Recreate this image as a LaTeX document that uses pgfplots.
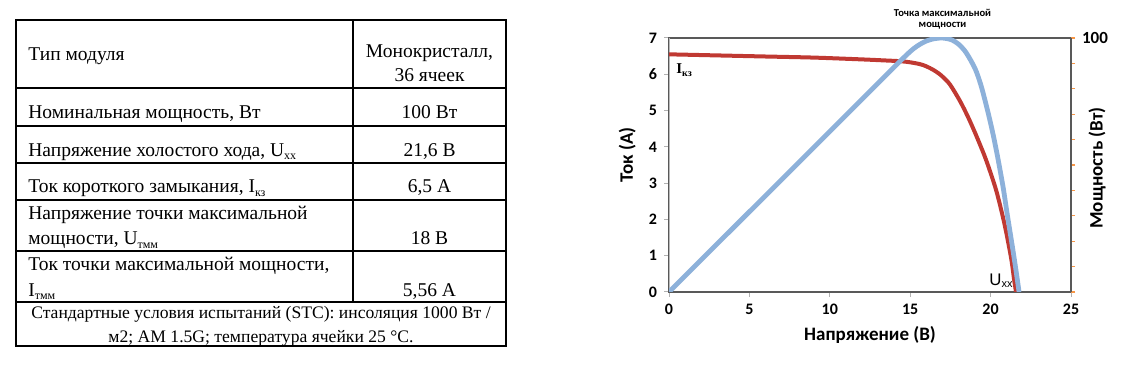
\documentclass[border=0pt]{standalone}
\usepackage{pgfplots}
\pgfplotsset{compat=1.18}
\usepackage{fontspec}
\setmainfont{Liberation Serif}
\newfontfamily\chartfont{Carlito}
\newfontfamily\sansfont{Liberation Sans}
\definecolor{curred}{RGB}{192,57,50}
\definecolor{powblue}{RGB}{141,177,218}
\definecolor{tickorange}{RGB}{247,150,70}
\definecolor{axgray}{RGB}{89,89,89}
\newcommand\sub[1]{\raisebox{-0.35ex}{\fontsize{6}{6}\selectfont #1}}
\newcommand\csub[1]{\raisebox{-0.3ex}{\fontsize{5}{5}\selectfont #1}}

\begin{document}
\begin{tikzpicture}
\path[use as bounding box] (0,0) rectangle (562pt,-184pt);
% ---------- table ----------
\draw[line width=0.6pt] (8pt,-10pt) rectangle (253pt,-173pt);
\draw[line width=0.6pt] (176.5pt,-10pt) -- (176.5pt,-151pt);
\draw[line width=0.6pt] (8pt,-44pt) -- (253pt,-44pt);
\draw[line width=0.6pt] (8pt,-63pt) -- (253pt,-63pt);
\draw[line width=0.6pt] (8pt,-81.5pt) -- (253pt,-81.5pt);
\draw[line width=0.6pt] (8pt,-100pt) -- (253pt,-100pt);
\draw[line width=0.6pt] (8pt,-125.5pt) -- (253pt,-125.5pt);
\draw[line width=0.6pt] (8pt,-151pt) -- (253pt,-151pt);
\begin{scope}[every node/.style={inner sep=0pt, font=\fontsize{9.75}{12}\selectfont}]
\node[anchor=base west] at (14pt,-30.5pt) {Тип модуля};
\node[anchor=base] at (214.75pt,-29pt) {Монокристалл,};
\node[anchor=base] at (214.75pt,-40.85pt) {36 ячеек};
\node[anchor=base west] at (14pt,-59.5pt) {Номинальная мощность, Вт};
\node[anchor=base] at (214.75pt,-59.5pt) {100 Вт};
\node[anchor=base west] at (14pt,-78.35pt) {Напряжение холостого хода, U\sub{хх}};
\node[anchor=base] at (214.75pt,-78.35pt) {21,6 В};
\node[anchor=base west] at (14pt,-96.5pt) {Ток короткого замыкания, I\sub{кз}};
\node[anchor=base] at (214.75pt,-96.5pt) {6,5 А};
\node[anchor=base west] at (14pt,-110pt) {Напряжение точки максимальной};
\node[anchor=base west] at (14pt,-122.5pt) {мощности, U\sub{тмм}};
\node[anchor=base] at (214.75pt,-122.5pt) {18 В};
\node[anchor=base west] at (14pt,-135.35pt) {Ток точки максимальной мощности,};
\node[anchor=base west] at (14pt,-148.35pt) {I\sub{тмм}};
\node[anchor=base] at (214.75pt,-148.35pt) {5,56 А};
\end{scope}
\begin{scope}[every node/.style={inner sep=0pt, font=\fontsize{8.8}{10}\selectfont}]
\node[anchor=base] at (130.5pt,-159.5pt) {Стандартные условия испытаний (STC): инсоляция 1000 Вт /};
\node[anchor=base] at (130.5pt,-171.35pt) {м2; AM 1.5G; температура ячейки 25 °C.};
\end{scope}
% ---------- chart ----------
\begin{axis}[
  at={(334.5pt,-146pt)}, anchor=south west, scale only axis,
  width=201pt, height=127pt,
  xmin=0, xmax=25, ymin=0, ymax=7,
  xtick={0,5,10,15,20,25}, ytick={0,1,...,7},
  xtick pos=left, ytick pos=left,
  axis line style={draw=axgray, line width=0.7pt},
  tick align=outside, major tick length=2.5pt,
  tick style={draw=gray!60, line width=0.5pt},
  tick label style={font=\chartfont\bfseries\fontsize{8}{9}\selectfont},
  /pgf/number format/assume math mode=true,
  xlabel={Напряжение (В)}, ylabel={Ток (А)},
  label style={font=\chartfont\bfseries\fontsize{9.5}{11}\selectfont},
  xlabel style={at={(axis description cs:0.5,-0.169)}, anchor=center},
  ylabel style={at={(axis description cs:-0.104,0.539)}, anchor=center},
]
\draw[gray!55, line width=0.7pt] (rel axis cs:0,0) -- (rel axis cs:0,1);
\addplot[curred, line width=2pt, smooth] coordinates {
(0,6.55) (3,6.52) (6,6.49) (9,6.46) (12,6.41) (13.5,6.38) (14.4,6.36)
(15.0,6.33) (15.6,6.28) (16.0,6.22) (16.44,6.12) (16.75,6.03) (17.0,5.94)
(17.47,5.72) (18.1,5.26) (18.61,4.81) (19.07,4.35) (19.49,3.90) (19.71,3.65)
(20.0,3.28) (20.38,2.75) (20.85,1.90) (21.27,0.95) (21.45,0.38) (21.58,0)
};
\end{axis}
\begin{axis}[
  at={(334.5pt,-146pt)}, anchor=south west, scale only axis,
  width=201pt, height=127pt,
  xmin=0, xmax=25, ymin=0, ymax=100,
  axis x line=none, axis y line*=right,
  ytick={0,10,...,100}, yticklabels={,,,,,,,,,,100},
  y axis line style={draw=axgray, line width=0.7pt},
  tick align=outside, major tick length=2pt,
  ytick style={draw=tickorange, line width=0.6pt},
  tick label style={font=\chartfont\bfseries\fontsize{8.5}{9}\selectfont},
  /pgf/number format/assume math mode=true,
  ylabel={Мощность (Вт)},
  label style={font=\chartfont\bfseries\fontsize{9.5}{11}\selectfont},
  ylabel style={at={(axis description cs:1.065,0.488)}, anchor=center},
]
\addplot[powblue, line width=2.4pt, smooth] coordinates {
(0,0) (5,31.6) (10,63.2) (14,88.5) (14.75,93.2) (15.2,95.75) (15.6,97.5)
(16.0,98.8) (16.4,99.6) (16.9,100) (17.25,99.8) (17.6,99.2) (18.0,97.6)
(18.47,94.3) (19.03,88.0) (19.38,81.8) (19.65,75.5) (19.92,68.6) (20.17,61.6)
(20.4,54.4) (20.6,47.6) (20.8,40.4) (21.0,32.0) (21.2,24.0) (21.4,16.0)
(21.6,7.6) (21.77,0)
};
\node[font=\chartfont\bfseries\fontsize{8.5}{9}\selectfont] at (rel axis cs:1,0) [xshift=8.5pt, yshift=-5pt] {0};
\end{axis}
% annotations
\node[anchor=base west, inner sep=0pt, font=\bfseries\fontsize{7.5}{8}\selectfont] at (338pt,-37pt) {I\csub{кз}};
\node[anchor=base west, inner sep=0pt, font=\sansfont\fontsize{8.4}{9}\selectfont] at (494.5pt,-143pt) {U\raisebox{-0.2ex}{\fontsize{5.5}{6}\selectfont хх}};
\node[anchor=base, inner sep=0pt, font=\chartfont\bfseries\fontsize{5.3}{6}\selectfont] at (471.25pt,-8.5pt) {Точка максимальной};
\node[anchor=base, inner sep=0pt, font=\chartfont\bfseries\fontsize{5.3}{6}\selectfont] at (471.25pt,-14pt) {мощности};
\end{tikzpicture}
\end{document}
